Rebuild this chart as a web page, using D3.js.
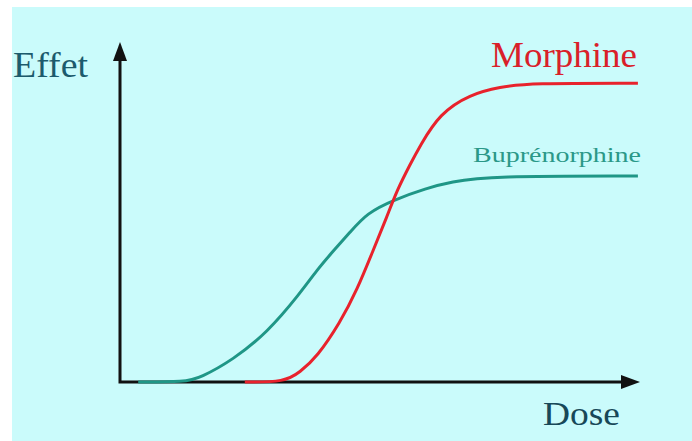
<!DOCTYPE html>
<html>
  <head>
    <meta charset="utf-8">
    <title>Effet / Dose</title>
    <script src="https://d3js.org/d3.v7.min.js"></script>
    <style>
      body { margin: 0; background: #fff; }
      svg { display: block; }
    </style>
  </head>
  <body>
    <svg id="chart" width="692" height="441"></svg>
    <script>
      // data (dose 0-100, effect 0-100)
      var buprenorphineDose = [3.5, 12.5, 15.4, 21.7, 28.3, 34.6, 37.9, 41, 44.2, 47.5, 52.5, 59, 63.5, 71.2, 99.6];
      var buprenorphineEffect = [0, 0, 1.2, 6.5, 14.5, 26, 33, 38.5, 44, 49.7, 53.5, 57, 58.8, 60.6, 60.6];
      var morphineDose = [24, 31.7, 34.6, 37.9, 42.3, 45.6, 48.7, 51.3, 53.3, 55.8, 57.7, 61.5, 67.3, 73.1, 78.8, 99.6];
      var morphineEffect = [0, 0, 2.9, 7.4, 17.4, 27.1, 38.8, 48.5, 56.5, 64, 69.5, 79, 84.6, 86.8, 87.9, 87.9];
      var labels = ["Morphine", "Buprénorphine"];
      var axisLabels = ["Effet", "Dose"];

      var font = "'Liberation Serif', 'Times New Roman', Times, serif";
      var svg = d3.select("#chart");
      svg.append("rect")
        .attr("x", 12).attr("y", 7)
        .attr("width", 680).attr("height", 434)
        .attr("fill", "#cafbfb");

      var x = d3.scaleLinear().domain([0, 100]).range([120, 640]);
      var y = d3.scaleLinear().domain([0, 100]).range([382, 42]);

      var line = d3.line()
        .x(function(d) { return x(d[0]); })
        .y(function(d) { return y(d[1]); })
        .curve(d3.curveBasis);

      // axes
      svg.append("path")
        .attr("d", "M" + x(0) + "," + y(0) + "V" + (y(100) + 14) + "M" + (x(0) - 1.5) + "," + y(0) + "H" + (x(100) - 14))
        .attr("fill", "none")
        .attr("stroke", "#111")
        .attr("stroke-width", 3);
      svg.append("path")
        .attr("d", "M" + x(0) + "," + y(100) + "l-7,19h14z")
        .attr("fill", "#111");
      svg.append("path")
        .attr("d", "M" + x(100) + "," + y(0) + "l-19,-7v14z")
        .attr("fill", "#111");

      // curves
      svg.append("path")
        .datum(d3.zip(buprenorphineDose, buprenorphineEffect))
        .attr("d", line)
        .attr("fill", "none")
        .attr("stroke", "#1f9686")
        .attr("stroke-width", 3);
      svg.append("path")
        .datum(d3.zip(morphineDose, morphineEffect))
        .attr("d", line)
        .attr("fill", "none")
        .attr("stroke", "#e8222c")
        .attr("stroke-width", 3);

      // texts
      function label(t, px, py, size, len, colour) {
        svg.append("text")
          .attr("x", px).attr("y", py)
          .attr("font-family", font)
          .attr("font-size", size)
          .attr("textLength", len)
          .attr("lengthAdjust", "spacingAndGlyphs")
          .attr("fill", colour)
          .text(t);
      }
      label(axisLabels[0], 13, 77, 35, 75, "#1c5a6c");
      label(axisLabels[1], 543, 425, 33, 77, "#174858");
      label(labels[0], 491, 67, 36, 146, "#d92029");
      label(labels[1], 473, 162, 22, 168, "#2a9888");
    </script>
  </body>
</html>
